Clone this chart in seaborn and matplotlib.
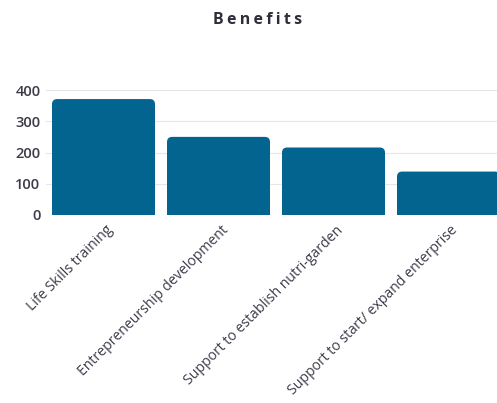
import matplotlib
matplotlib.use("Agg")
import matplotlib.pyplot as plt
from matplotlib.patches import FancyBboxPatch
from matplotlib.transforms import ScaledTranslation
import seaborn as sns
import pandas as pd

categories = [
    "Life Skills training",
    "Entrepreneurship development",
    "Support to establish nutri-garden",
    "Support to start/ expand enterprise",
]
values = [371, 250, 216, 139]
yticks = [0, 100, 200, 300, 400]

bar_color = "#03658f"
text_color = "#3b3b4a"

sns.set_theme(style="white")
plt.rcParams["font.family"] = ["Open Sans", "DejaVu Sans"]

df = pd.DataFrame({"benefit": categories, "count": values})

fig = plt.figure(figsize=(4.97, 4.03), dpi=100)
ax = fig.add_axes([46 / 497, 188 / 403, 1 - 46 / 497, 125 / 403])

sns.barplot(data=df, x="benefit", y="count", color=bar_color, width=103 / 115,
            saturation=1, ax=ax, zorder=3)

ax.set_xlim(-0.5, -0.5 + 451 / 115)
ax.set_ylim(0, 400)

# swap the plain rectangles for ones with rounded top corners
aspect = (400 / 125) * 115  # data units per pixel, y over x
for p in list(ax.patches):
    x, y = p.get_x(), p.get_y()
    w, h = p.get_width(), p.get_height()
    p.remove()
    ax.add_patch(FancyBboxPatch((x, y), w, h,
                                boxstyle="round,pad=0,rounding_size=0.045",
                                mutation_aspect=aspect, facecolor=bar_color,
                                edgecolor="none", zorder=3))
    # square off the bottom corners
    ax.add_patch(plt.Rectangle((x, y), w, min(h, 25), facecolor=bar_color,
                               edgecolor="none", zorder=3))

ax.set_yticks(yticks)
ax.set_yticklabels([str(t) for t in yticks])
ax.yaxis.grid(True, color="#e6e6ea", linewidth=0.8, zorder=0)
ax.set_axisbelow(True)
for s in ax.spines.values():
    s.set_visible(False)
ax.set_xlabel("")
ax.set_ylabel("")
ax.tick_params(axis="y", length=0, pad=4, labelsize=10.5, labelcolor=text_color)
ax.tick_params(axis="x", length=0, pad=2, labelsize=10.1, labelcolor=text_color)
for lab in ax.get_yticklabels():
    lab.set_fontweight("semibold")

offset = ScaledTranslation(2 / 100, -5 / 100, fig.dpi_scale_trans)
ax.set_xticks(range(len(categories)))
ax.set_xticklabels(categories, rotation=45, ha="right", rotation_mode="anchor")
for lab in ax.get_xticklabels():
    lab.set_transform(lab.get_transform() + offset)

fig.text(258 / 497, 1 - 20 / 403, "\u2009".join("Benefits"), ha="center", va="center",
         fontsize=11.5, fontweight="bold", color="#2e2e3a")

fig.savefig("out.png", dpi=100, facecolor="white")
